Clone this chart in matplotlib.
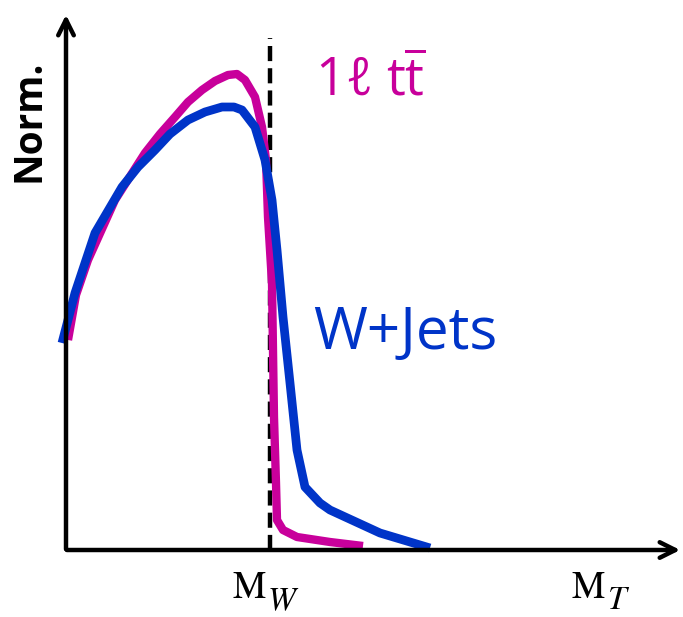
import matplotlib
matplotlib.use('Agg')
import matplotlib.pyplot as plt

# curve shapes (arbitrary units, baseline at 0)
ttbar_mt = [2, 10, 22, 49, 79, 94, 109, 122, 136, 149, 162, 171, 179, 189, 196, 200, 202, 206, 208, 210, 211, 217, 231, 264, 297]
ttbar_norm = [210, 255, 290, 350, 397, 416, 433, 448, 460, 469, 475, 476, 470, 453, 423, 390, 333, 267, 133, 67, 30, 20, 13, 8, 4]

wjets_mt = [-4, 9, 29, 56, 72, 89, 104, 122, 139, 156, 168, 176, 189, 199, 206, 211, 217, 224, 231, 239, 254, 264, 314, 364]
wjets_norm = [207, 257, 317, 363, 383, 400, 416, 430, 438, 443, 443, 440, 423, 390, 350, 300, 233, 167, 100, 63, 47, 40, 17, 2]

mw_pos = 204
dash_top = 512
x_tip = 617
y_tip = 538

magenta = '#C8009B'
blue = '#0034C8'

plt.rcParams['mathtext.fontset'] = 'custom'
plt.rcParams['mathtext.rm'] = 'Open Sans'

fig = plt.figure(figsize=(6.83, 6.17), dpi=100)
ax = fig.add_axes([0, 0, 1, 1])
ax.set_xlim(-66, 617)
ax.set_ylim(-67, 550)
ax.axis('off')

# axes with arrow heads
ax.annotate('', xy=(x_tip, 0), xytext=(-2, 0),
            arrowprops=dict(arrowstyle='->', lw=3.2, color='black', mutation_scale=28))
ax.annotate('', xy=(0, y_tip), xytext=(0, -2),
            arrowprops=dict(arrowstyle='->', lw=3.2, color='black', mutation_scale=28))

# M_W marker
ax.plot([mw_pos, mw_pos], [0, dash_top], color='black', lw=3.2, ls=(0, (3.4, 1.6)))

ax.plot(ttbar_mt, ttbar_norm, color=magenta, lw=6.0, solid_joinstyle='round', solid_capstyle='butt')
ax.plot(wjets_mt, wjets_norm, color=blue, lw=6.3, solid_joinstyle='round', solid_capstyle='butt')

ax.text(249, 468, r'1ℓ t$\overline{\mathrm{t}}$', color=magenta, fontsize=38,
        family=['Open Sans', 'DejaVu Sans'], va='center', ha='left')
ax.text(247, 217, 'W+Jets', color=blue, fontsize=42, family='Open Sans',
        va='center', ha='left')
ax.text(-37, 429, 'Norm.', rotation=90, fontsize=28, fontweight='bold',
        family='Open Sans', va='center', ha='center')

# axis labels: upright M with a large italic subscript
for x0, sub in [(167, 'W'), (506, 'T')]:
    ax.text(x0, -48, 'M', fontsize=27, family='STIXGeneral', ha='left', va='baseline')
    ax.text(x0 + 35, -59, sub, fontsize=24, family='STIXGeneral', style='italic',
            ha='left', va='baseline')

fig.savefig('out.png', dpi=100)
